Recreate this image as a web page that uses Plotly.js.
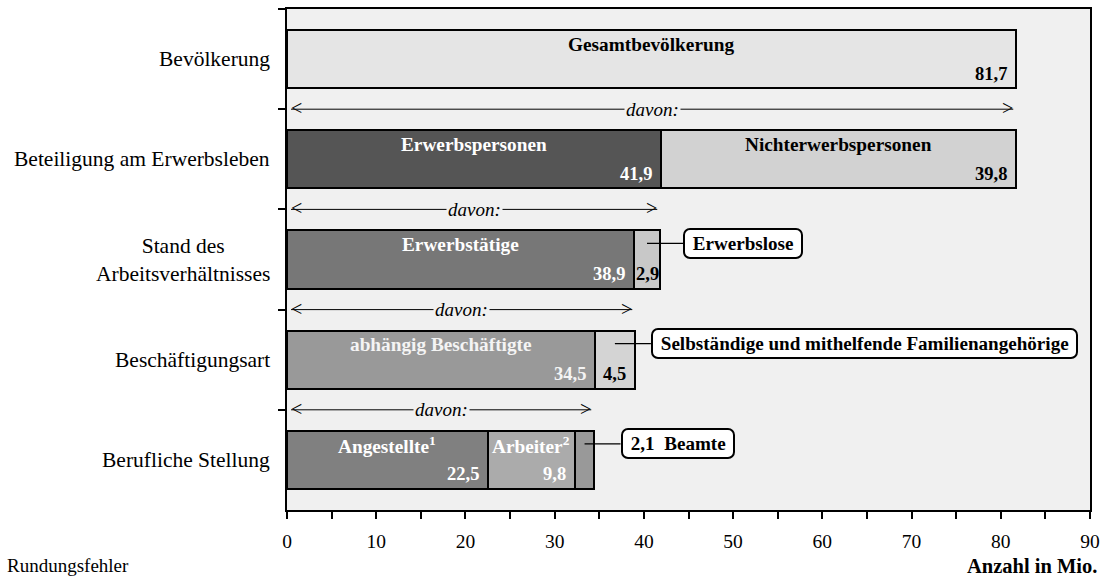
<!DOCTYPE html>
<html>
<head>
<meta charset="utf-8">
<script src="https://cdn.plot.ly/plotly-3.0.1.min.js"></script>
<style>
  html, body { margin: 0; padding: 0; background: #ffffff; }
  #chart { width: 1105px; height: 576px; }
</style>
</head>
<body>
<div id="chart"></div>
<script>
// ---------- data ----------
const categories = [
  'Bevölkerung',
  'Beteiligung am Erwerbsleben',
  'Stand des<br>Arbeitsverhältnisses',
  'Beschäftigungsart',
  'Berufliche Stellung'
];
const seg1Values = [81.7, 41.9, 38.9, 34.5, 22.5];
const seg2Values = [null, 39.8, 2.9, 4.5, 9.8];
const seg3Values = [null, null, null, null, 2.1];

const seg1Labels = ['Gesamtbevölkerung', 'Erwerbspersonen', 'Erwerbstätige', 'abhängig Beschäftigte', 'Angestellte<sup>1</sup>'];
const seg2Labels = ['', 'Nichterwerbspersonen', '', '', 'Arbeiter<sup>2</sup>'];
const calloutLabels = ['', '', 'Erwerbslose', 'Selbständige und mithelfende Familienangehörige', 'Beamte'];
const davonLabel = 'davon:';
const xTitle = 'Anzahl in Mio.';
const footnote = 'Rundungsfehler';
const xTickVals = [0, 10, 20, 30, 40, 50, 60, 70, 80, 90];

// ---------- styles ----------
const seg1Colors = ['#e5e5e5', '#555555', '#777777', '#999999', '#808080'];
const seg2Colors = ['#d2d2d2', '#d2d2d2', '#c8c8c8', '#d4d4d4', '#ababab'];
const seg3Colors = ['#999999', '#999999', '#999999', '#999999', '#999999'];
const seg1TextColors = ['#000000', '#ffffff', '#ffffff', '#f4f4f4', '#ffffff'];
const seg2TextColors = ['#000000', '#000000', '#000000', '#000000', '#ffffff'];

const FONT = 'Liberation Serif';
const NB = '\u00A0';
const fmt = v => v.toFixed(1).replace('.', ',');
const segs = [seg1Values, seg2Values, seg3Values];
const segColors = [seg1Colors, seg2Colors, seg3Colors];

const traces = segs.map((vals, k) => ({
  type: 'bar',
  orientation: 'h',
  y: categories,
  x: vals,
  width: 0.58,
  marker: { color: segColors[k], line: { color: '#000000', width: 2 } },
  hoverinfo: 'skip',
  textposition: 'none',
  showlegend: false
}));

const annotations = [];
const shapes = [];

// category labels (left side)
categories.forEach((c, i) => {
  annotations.push({
    xref: 'paper', yref: 'y', x: 0, y: i, xanchor: 'right', yanchor: 'middle',
    xshift: -15, text: c, showarrow: false, align: 'center',
    font: { family: FONT, size: 21.5, color: '#000000' }
  });
});

// bar inner labels and values
categories.forEach((c, i) => {
  const rowVals = segs.map(s => s[i]);
  const nSeg = rowVals.filter(v => v != null).length;
  let start = 0;
  rowVals.forEach((v, k) => {
    if (v == null) return;
    const labelText = k === 0 ? seg1Labels[i] : (k === 1 ? seg2Labels[i] : '');
    const txtColor = k === 0 ? seg1TextColors[i] : seg2TextColors[i];
    if (labelText) {
      annotations.push({
        x: start + v / 2, y: i - 0.15, xref: 'x', yref: 'y', text: labelText, showarrow: false,
        xanchor: 'center', yanchor: 'middle',
        font: { family: FONT, size: 19.3, weight: 'bold', color: txtColor }
      });
    }
    const isCalloutSeg = (k === nSeg - 1) && calloutLabels[i] && nSeg > 1;
    const valueInCallout = isCalloutSeg && nSeg === 3;
    if (!valueInCallout) {
      const narrow = v < 5;
      annotations.push({
        x: narrow ? start + v / 2 : start + v, y: i + 0.145, xref: 'x', yref: 'y', text: fmt(v), showarrow: false,
        xanchor: narrow ? 'center' : 'right', xshift: narrow ? 0 : -7, yanchor: 'middle',
        font: { family: FONT, size: 18.5, weight: 'bold', color: txtColor }
      });
    }
    if (isCalloutSeg) {
      const txt = valueInCallout ? fmt(v) + NB + NB + calloutLabels[i] : calloutLabels[i];
      annotations.push({
        x: start + v / 2, y: i - 0.16, xref: 'x', yref: 'y',
        text: NB + txt + NB,
        showarrow: true, arrowhead: 0, arrowwidth: 1.2, arrowcolor: '#000000',
        ax: 36, ay: 0, xanchor: 'left', yanchor: 'middle', standoff: 0,
        bgcolor: '#ffffff', bordercolor: '#000000', borderwidth: 2, borderpad: 3,
        font: { family: FONT, size: 19.1, weight: 'bold', color: '#000000' }
      });
    }
    start += v;
  });
});

// "davon:" arrows between rows
for (let i = 0; i < categories.length - 1; i++) {
  const total = segs.reduce((a, s) => a + (s[i + 1] || 0), 0);
  const x0 = 0.45, x1 = total - 0.3;
  shapes.push({ type: 'line', xref: 'x', yref: 'y', x0: x0, x1: x1, y0: i + 0.5, y1: i + 0.5,
    line: { color: '#000000', width: 1 } });
  annotations.push({ x: x0, y: i + 0.5, xref: 'x', yref: 'y', text: '<', showarrow: false,
    xanchor: 'left', yanchor: 'middle', xshift: -2, yshift: 1,
    font: { family: FONT, size: 20, color: '#000000' } });
  annotations.push({ x: x1, y: i + 0.5, xref: 'x', yref: 'y', text: '>', showarrow: false,
    xanchor: 'right', yanchor: 'middle', xshift: 2, yshift: 1,
    font: { family: FONT, size: 20, color: '#000000' } });
  annotations.push({ x: (x0 + x1) / 2, y: i + 0.5, xref: 'x', yref: 'y', text: '<i>' + davonLabel + '</i>',
    showarrow: false, xanchor: 'center', yanchor: 'middle', bgcolor: '#f0f0f0', borderpad: 1,
    font: { family: FONT, size: 19, color: '#000000' } });
}

// axis title & footnote
annotations.push({ xref: 'paper', yref: 'paper', x: 1, y: 0, xanchor: 'right', yanchor: 'top',
  xshift: 9, yshift: -43, text: xTitle, showarrow: false,
  font: { family: FONT, size: 20.5, weight: 'bold', color: '#000000' } });
annotations.push({ xref: 'paper', yref: 'paper', x: 0, y: 0, xanchor: 'left', yanchor: 'top',
  xshift: -282, yshift: -43, text: footnote, showarrow: false,
  font: { family: FONT, size: 19, color: '#000000' } });

const layout = {
  width: 1105, height: 576,
  margin: { l: 287, r: 15, t: 9, b: 66 },
  paper_bgcolor: '#ffffff', plot_bgcolor: '#f0f0f0',
  barmode: 'stack', bargap: 0.42,
  font: { family: FONT, size: 19, color: '#000000' },
  xaxis: {
    range: [0, 90], tickvals: xTickVals, ticks: 'outside', ticklen: 7, tickwidth: 2, tickcolor: '#000000',
    minor: { dtick: 5, tick0: 0, ticks: 'outside', ticklen: 7, tickwidth: 2, tickcolor: '#000000' },
    showline: true, linecolor: '#000000', linewidth: 2, mirror: true, showgrid: false, zeroline: false,
    tickfont: { family: FONT, size: 19.5, color: '#000000' }, ticklabelstandoff: 6
  },
  yaxis: {
    type: 'category', range: [4.5, -0.5], tickson: 'boundaries', ticks: 'outside', ticklen: 7, tickwidth: 2,
    tickcolor: '#000000', showticklabels: false,
    showline: true, linecolor: '#000000', linewidth: 2, mirror: true, showgrid: false, zeroline: false
  },
  annotations: annotations,
  shapes: shapes
};

Plotly.newPlot('chart', traces, layout, { displayModeBar: false, staticPlot: true }).then(gd => {
  gd.querySelectorAll('g.annotation rect.bg').forEach(r => {
    if (parseFloat(r.style.strokeWidth || r.getAttribute('stroke-width') || 0) > 0) {
      r.setAttribute('rx', 6); r.setAttribute('ry', 6);
    }
  });
});
</script>
</body>
</html>
